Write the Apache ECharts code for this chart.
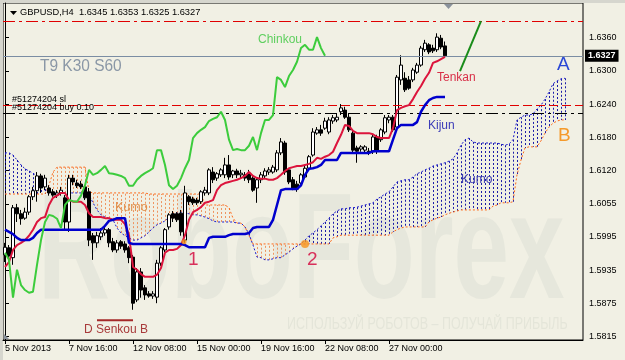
<!DOCTYPE html>
<html><head><meta charset="utf-8">
<script src="https://cdn.jsdelivr.net/npm/echarts@6/dist/echarts.min.js"></script>
<style>html,body{margin:0;padding:0;background:#f1f0e4}#c{width:625px;height:360px}</style>
</head><body><div id="c"></div><script>
// ---- data ----
const dateLabels = ['5 Nov 2013','7 Nov 16:00','12 Nov 08:00','15 Nov 00:00','19 Nov 16:00','22 Nov 08:00','27 Nov 00:00'];
const barsPerLabel = 16;
const barCount = 145;
const categories = Array.from({length: barCount}, (_, i) => 'bar' + i);

const tickValues = [1.5815,1.58756,1.59361,1.59967,1.60572,1.61178,1.61784,1.62389,1.62995,1.6360];
const tickLabels = ['1.5815','1.5875','1.5935','1.5995','1.6055','1.6120','1.6180','1.6240','1.6300','1.6360'];

// [open, close, low, high]
const candles = [
[1.5964,1.5978,1.5951,1.5986],[1.5977,1.5962,1.5948,1.5982],[1.5959,1.6050,1.5946,1.6055],[1.6050,1.6039,1.6024,1.6057],
[1.6039,1.6030,1.6019,1.6046],[1.6031,1.6042,1.6028,1.6050],[1.6042,1.6070,1.6037,1.6073],[1.6070,1.6081,1.6064,1.6088],
[1.6081,1.6108,1.6061,1.6115],[1.6108,1.6086,1.6077,1.6112],[1.6088,1.6104,1.6082,1.6110],[1.6086,1.6077,1.6072,1.6091],
[1.6079,1.6073,1.6070,1.6084],[1.6073,1.6077,1.6068,1.6082],[1.6077,1.6082,1.6072,1.6088],[1.6068,1.6024,1.6010,1.6073],
[1.6024,1.6104,1.6006,1.6110],[1.6104,1.6097,1.6091,1.6110],[1.6095,1.6090,1.6086,1.6101],[1.6093,1.6088,1.6084,1.6099],
[1.6088,1.6068,1.6064,1.6091],[1.6079,1.5991,1.5980,1.6086],[1.5999,1.5986,1.5955,1.6004],[1.5986,1.5999,1.5977,1.6006],
[1.5997,1.6004,1.5991,1.6013],[1.6004,1.6010,1.5999,1.6017],[1.6010,1.5986,1.5978,1.6013],[1.5988,1.5973,1.5969,1.5995],
[1.5973,1.5986,1.5968,1.5991],[1.5988,1.5980,1.5975,1.5991],[1.5984,1.5973,1.5968,1.5989],[1.5977,1.5959,1.5949,1.5980],
[1.5960,1.5876,1.5864,1.5964],[1.5882,1.5933,1.5878,1.5940],[1.5933,1.5900,1.5886,1.5940],[1.5904,1.5891,1.5882,1.5909],
[1.5893,1.5889,1.5886,1.5898],[1.5889,1.5893,1.5884,1.5898],[1.5887,1.5949,1.5876,1.5955],[1.5949,1.5977,1.5944,1.5980],
[1.5973,1.6010,1.5969,1.6013],[1.6015,1.6037,1.6010,1.6040],[1.6039,1.6031,1.6024,1.6044],[1.6039,1.6028,1.6024,1.6042],
[1.6040,1.6006,1.5999,1.6046],[1.5991,1.6077,1.5986,1.6090],[1.6070,1.6061,1.6055,1.6073],[1.6066,1.6059,1.6055,1.6070],
[1.6064,1.6059,1.6055,1.6068],[1.6061,1.6079,1.6057,1.6082],[1.6077,1.6082,1.6072,1.6088],[1.6077,1.6119,1.6073,1.6122],
[1.6115,1.6101,1.6095,1.6124],[1.6104,1.6112,1.6099,1.6115],[1.6110,1.6119,1.6106,1.6122],[1.6110,1.6128,1.6104,1.6141],
[1.6128,1.6106,1.6101,1.6146],[1.6110,1.6117,1.6104,1.6119],[1.6117,1.6110,1.6104,1.6121],[1.6110,1.6113,1.6104,1.6119],
[1.6110,1.6104,1.6099,1.6115],[1.6113,1.6101,1.6095,1.6119],[1.6104,1.6082,1.6079,1.6108],[1.6086,1.6101,1.6059,1.6104],
[1.6101,1.6110,1.6095,1.6115],[1.6108,1.6117,1.6104,1.6122],[1.6115,1.6119,1.6110,1.6124],[1.6115,1.6124,1.6112,1.6128],
[1.6119,1.6150,1.6115,1.6155],[1.6150,1.6170,1.6146,1.6177],[1.6168,1.6115,1.6110,1.6172],[1.6119,1.6097,1.6093,1.6122],
[1.6101,1.6086,1.6082,1.6106],[1.6093,1.6084,1.6079,1.6099],[1.6095,1.6110,1.6091,1.6113],[1.6106,1.6122,1.6104,1.6128],
[1.6122,1.6143,1.6119,1.6146],[1.6146,1.6188,1.6143,1.6195],[1.6186,1.6192,1.6183,1.6197],[1.6192,1.6186,1.6181,1.6201],
[1.6195,1.6208,1.6192,1.6214],[1.6188,1.6210,1.6184,1.6215],[1.6208,1.6214,1.6203,1.6219],[1.6210,1.6215,1.6206,1.6221],
[1.6225,1.6232,1.6219,1.6239],[1.6228,1.6215,1.6212,1.6234],[1.6215,1.6192,1.6188,1.6221],[1.6186,1.6155,1.6150,1.6192],
[1.6159,1.6153,1.6132,1.6163],[1.6157,1.6161,1.6152,1.6164],[1.6155,1.6161,1.6150,1.6164],[1.6153,1.6150,1.6146,1.6159],
[1.6152,1.6179,1.6148,1.6183],[1.6179,1.6155,1.6148,1.6183],[1.6174,1.6192,1.6170,1.6195],[1.6188,1.6214,1.6184,1.6219],
[1.6210,1.6215,1.6204,1.6219],[1.6215,1.6192,1.6188,1.6219],[1.6197,1.6288,1.6192,1.6292],[1.6283,1.6310,1.6274,1.6328],
[1.6286,1.6265,1.6261,1.6297],[1.6283,1.6268,1.6265,1.6290],[1.6283,1.6301,1.6279,1.6305],[1.6297,1.6310,1.6294,1.6314],
[1.6310,1.6341,1.6307,1.6345],[1.6338,1.6350,1.6334,1.6356],[1.6347,1.6334,1.6330,1.6350],[1.6341,1.6336,1.6332,1.6347],
[1.6338,1.6361,1.6334,1.6368],[1.6359,1.6343,1.6339,1.6365],[1.6345,1.6327,1.6325,1.6353]
];

const tenkan = [1.5942,1.5951,1.5973,1.5982,1.5986,1.5991,1.5999,1.6010,1.6024,1.6031,
1.6033,1.6055,1.6068,1.6072,1.6077,1.6077,1.6064,1.6061,1.6061,1.6061,
1.6055,1.6040,1.6033,1.6033,1.6033,1.6031,1.6031,1.6028,1.6028,1.6028,
1.6020,1.6000,1.5942,1.5937,1.5929,1.5924,1.5924,1.5924,1.5928,1.5940,
1.5968,1.5973,1.5973,1.5975,1.5982,1.6000,1.6028,1.6042,1.6046,1.6051,
1.6059,1.6061,1.6064,1.6082,1.6091,1.6095,1.6097,1.6099,1.6101,1.6104,
1.6108,1.6115,1.6108,1.6104,1.6103,1.6103,1.6101,1.6101,1.6104,1.6110,
1.6117,1.6122,1.6124,1.6126,1.6126,1.6128,1.6130,1.6133,1.6141,1.6139,
1.6143,1.6146,1.6152,1.6168,1.6183,1.6201,1.6199,1.6190,1.6186,1.6186,
1.6186,1.6186,1.6184,1.6179,1.6177,1.6177,1.6177,1.6195,1.6228,1.6232,
1.6235,1.6237,1.6248,1.6261,1.6272,1.6285,1.6296,1.6314,1.6317,1.6321,
1.6325];

const kijun = [1.6010,1.6006,1.6002,1.5995,1.5991,1.5991,1.5991,1.5995,1.6004,1.6010,
1.6010,1.6010,1.6010,1.6010,1.6010,1.6010,1.6010,1.6010,1.6010,1.6010,
1.6010,1.6010,1.6010,1.6010,1.6010,1.6017,1.6026,1.6028,1.6031,1.6031,
1.6031,1.5986,1.5984,1.5984,1.5984,1.5984,1.5984,1.5984,1.5984,1.5984,
1.5984,1.5984,1.5984,1.5984,1.5984,1.5982,1.5978,1.5978,1.5978,1.5978,
1.5978,1.5995,1.5997,1.5997,1.5997,1.5997,1.6000,1.6002,1.6002,1.6002,
1.6002,1.6004,1.6013,1.6015,1.6015,1.6015,1.6015,1.6028,1.6055,1.6082,
1.6084,1.6084,1.6084,1.6084,1.6091,1.6110,1.6121,1.6122,1.6124,1.6128,
1.6137,1.6137,1.6137,1.6137,1.6150,1.6150,1.6150,1.6150,1.6150,1.6150,
1.6150,1.6150,1.6153,1.6153,1.6153,1.6153,1.6153,1.6174,1.6195,1.6201,
1.6201,1.6201,1.6201,1.6206,1.6225,1.6237,1.6246,1.6250,1.6252,1.6252,
1.6252];

const chinkou = [1.5968,1.5955,1.5886,1.5937,1.5909,1.5900,1.5895,1.5897,1.5946,1.5991,
1.6024,1.6037,1.6035,1.6030,1.6013,1.6055,1.6064,1.6062,1.6061,1.6072,
1.6091,1.6119,1.6110,1.6113,1.6119,1.6126,1.6113,1.6112,1.6110,1.6108,
1.6104,1.6090,1.6090,1.6101,1.6108,1.6113,1.6117,1.6122,1.6155,1.6155,
1.6128,1.6091,1.6084,1.6090,1.6104,1.6122,1.6137,1.6177,1.6186,1.6192,
1.6197,1.6208,1.6212,1.6215,1.6225,1.6210,1.6174,1.6155,1.6157,1.6155,
1.6155,1.6163,1.6179,1.6155,1.6186,1.6210,1.6210,1.6219,1.6288,1.6283,
1.6270,1.6290,1.6301,1.6316,1.6341,1.6347,1.6338,1.6338,1.6361,1.6341,
1.6327];

const senkouA = [1.6150,1.6150,1.6146,1.6137,1.6128,1.6121,1.6117,1.6113,1.6108,1.6097,
1.6084,1.6077,1.6077,1.6077,1.6077,1.6077,1.6077,1.6077,1.6077,1.6077,
1.6077,1.6073,1.6059,1.6046,1.6037,1.6033,1.6031,1.6028,1.6013,1.6004,
1.5999,1.5995,1.5991,1.5991,1.5995,1.5999,1.6006,1.6013,1.6019,1.6022,
1.6026,1.6033,1.6039,1.6040,1.6042,1.6040,1.6039,1.6037,1.6037,1.6035,
1.6033,1.6030,1.6026,1.6024,1.6024,1.6024,1.6024,1.6024,1.6022,1.6022,
1.6015,1.6002,1.5982,1.5960,1.5959,1.5955,1.5955,1.5957,1.5959,1.5959,
1.5964,1.5969,1.5975,1.5980,1.5984,1.5991,1.5999,1.6004,1.6010,1.6017,
1.6024,1.6031,1.6039,1.6044,1.6048,1.6048,1.6050,1.6050,1.6051,1.6053,
1.6055,1.6057,1.6059,1.6066,1.6070,1.6075,1.6079,1.6088,1.6097,1.6099,
1.6101,1.6101,1.6106,1.6112,1.6115,1.6119,1.6122,1.6126,1.6128,1.6130,
1.6132,1.6135,1.6139,1.6150,1.6164,1.6174,1.6177,1.6170,1.6168,1.6168,
1.6168,1.6168,1.6168,1.6168,1.6166,1.6164,1.6166,1.6174,1.6210,1.6215,
1.6219,1.6219,1.6221,1.6230,1.6237,1.6248,1.6261,1.6276,1.6281,1.6285,
1.6286];

const senkouB = [1.6075,1.6075,1.6075,1.6075,1.6075,1.6075,1.6075,1.6075,1.6075,1.6075,
1.6075,1.6091,1.6115,1.6124,1.6124,1.6124,1.6124,1.6124,1.6124,1.6124,
1.6124,1.6079,1.6077,1.6077,1.6077,1.6077,1.6077,1.6077,1.6077,1.6077,
1.6077,1.6077,1.6077,1.6077,1.6077,1.6077,1.6075,1.6075,1.6075,1.6075,
1.6075,1.6075,1.6075,1.6075,1.6075,1.6075,1.6075,1.6075,1.6075,1.6075,
1.6055,1.6055,1.6055,1.6055,1.6055,1.6055,1.6050,1.6031,1.6022,1.6022,
1.6015,1.5999,1.5984,1.5984,1.5984,1.5984,1.5984,1.5984,1.5984,1.5984,
1.5984,1.5984,1.5984,1.5984,1.5984,1.5984,1.5984,1.5984,1.5984,1.5984,
1.5984,1.5984,1.5995,1.5997,1.6000,1.6000,1.6000,1.6000,1.6000,1.6000,
1.6000,1.6000,1.6000,1.6000,1.6000,1.6000,1.6000,1.6006,1.6010,1.6013,
1.6015,1.6015,1.6015,1.6015,1.6015,1.6015,1.6024,1.6028,1.6031,1.6033,
1.6037,1.6040,1.6042,1.6044,1.6046,1.6046,1.6046,1.6046,1.6046,1.6046,
1.6046,1.6046,1.6053,1.6055,1.6059,1.6059,1.6059,1.6061,1.6110,1.6137,
1.6159,1.6161,1.6161,1.6161,1.6172,1.6186,1.6197,1.6204,1.6208,1.6210,
1.6210];

// horizontal levels
const levelPrices = [1.6390, 1.6327, 1.6237, 1.6222];
const levelKinds = ['tp', 'bid', 'sl', 'entry'];
// user drawn objects (bar position, price)
const trendLine = [[113.75, 1.6299], [119, 1.6390]];
const senkouBMark = [[23, 1.5845], [32, 1.5845]];
const signalDots = [[44.75, 1.5988, 5], [75, 1.5984, 8]];

// ---- chart ----
const FONT = '"Liberation Sans", Arial, sans-serif';
const chart = echarts.init(document.getElementById('c'), null, {renderer: 'canvas'});

function nearestLabel(v) {
  let k = 0, best = 1e9;
  tickValues.forEach((t, j) => { const d = Math.abs(t - v); if (d < best) { best = d; k = j; } });
  return tickLabels[k];
}
const showTick = (i) => i % barsPerLabel === 0 && i / barsPerLabel < dateLabels.length;

function txt(text, x, y, size, color, extra) {
  return Object.assign({type: 'text', x: x, y: y, z: 100, silent: true,
    style: {text: text, font: size + 'px ' + FONT, fill: color, align: 'left', verticalAlign: 'middle'}}, extra || {});
}

const levelStyles = {
  tp: {color: '#e00000', width: 1, type: [12, 4, 3, 4]},
  bid: {color: '#7b8da3', width: 1, type: 'solid'},
  sl: {color: '#e00000', width: 1, type: [9, 4]},
  entry: {color: '#000000', width: 1, type: [12, 4, 3, 4]}
};

const kumoData = senkouA.map((a, i) => [i, a, senkouB[i]]);

const option = {
  animation: false,
  backgroundColor: '#f1f0e4',
  grid: {left: 3, top: 3, right: 42, bottom: 20, show: true, borderColor: '#000', borderWidth: 1, backgroundColor: 'transparent'},
  xAxis: [{
    type: 'category', data: categories, boundaryGap: true,
    axisLine: {show: true, lineStyle: {color: '#000'}},
    axisTick: {show: true, interval: showTick, alignWithLabel: true, length: 4, lineStyle: {color: '#000'}},
    axisLabel: {interval: showTick, formatter: (v, i) => dateLabels[Math.round(i / barsPerLabel)] || '',
      align: 'left', margin: 4, fontSize: 9, fontFamily: FONT, color: '#000'},
    splitLine: {show: false}
  }, {
    type: 'value', min: -0.5, max: barCount - 0.5, show: false
  }],
  yAxis: {
    type: 'value', position: 'right', min: 1.58089, max: 1.64232,
    axisLine: {show: true, lineStyle: {color: '#000'}},
    axisTick: {show: true, length: 4, customValues: tickValues, lineStyle: {color: '#000'}},
    axisLabel: {customValues: tickValues, formatter: nearestLabel, margin: 6, fontSize: 9, fontFamily: FONT, color: '#000'},
    splitLine: {show: false}
  },
  series: [
    {
      type: 'custom', name: 'kumo', z: 1, silent: true,
      data: kumoData,
      encode: {x: 0, y: [1, 2]},
      renderItem: function (params, api) {
        const i = api.value(0), a = api.value(1), b = api.value(2);
        const pa = api.coord([i, a]), pb = api.coord([i, b]);
        const x = Math.round(pa[0]) + 0.5;
        const up = a >= b;
        return {type: 'line', shape: {x1: x, y1: pa[1], x2: x, y2: pb[1]},
          style: {stroke: up ? '#1c1ca8' : '#ee9460', lineWidth: 1, lineDash: [2, 2]}};
      }
    },
    {type: 'line', name: 'Senkou A', data: senkouA, symbol: 'none', z: 2, silent: true,
      lineStyle: {color: '#1c1ccd', width: 1, type: [2, 2]}},
    {type: 'line', name: 'Senkou B', data: senkouB, symbol: 'none', z: 2, silent: true,
      lineStyle: {color: '#ff6a1a', width: 1, type: [2, 2]}},
    {
      type: 'candlestick', name: 'GBPUSD', z: 3, barWidth: 3,
      data: candles,
      itemStyle: {color: '#ffffff', color0: '#000000', borderColor: '#000000', borderColor0: '#000000', borderWidth: 1}
    },
    {type: 'line', name: 'Tenkan', data: tenkan, symbol: 'none', z: 5, silent: true,
      lineStyle: {color: '#dc143c', width: 2}},
    {type: 'line', name: 'Kijun', data: kijun, symbol: 'none', z: 5, silent: true,
      lineStyle: {color: '#0000cd', width: 2.5}},
    {type: 'line', name: 'Chinkou', data: chinkou, symbol: 'none', z: 5, silent: true,
      lineStyle: {color: '#3ccc3c', width: 2}},
    {type: 'line', name: 'trend', xAxisIndex: 1, data: trendLine, symbol: 'none', z: 6, silent: true,
      lineStyle: {color: '#1a8c1a', width: 2},
      markLine: {
        silent: true, symbol: ['none', 'none'], animation: false, precision: 5,
        data: levelPrices.map((p, k) => ({
          yAxis: p, lineStyle: levelStyles[levelKinds[k]],
          label: levelKinds[k] === 'bid'
            ? {show: true, position: 'end', formatter: p.toFixed(4), color: '#fff', backgroundColor: '#000',
               padding: [2, 3, 1, 3], fontSize: 9, fontWeight: 'bold', fontFamily: FONT, distance: 2}
            : {show: false}
        }))
      }},
    {type: 'line', name: 'D Senkou B', xAxisIndex: 1, data: senkouBMark, symbol: 'none', z: 6, silent: true,
      lineStyle: {color: '#a52a2a', width: 2}},
    {type: 'scatter', name: 'signals', xAxisIndex: 1, data: signalDots, z: 7, silent: true,
      symbolSize: (d) => d[2], itemStyle: {color: '#f7941d'}}
  ],
  graphic: {elements: [
    {type: 'rect', z: 0, silent: true, shape: {x: 0, y: 0, width: 625, height: 3}, style: {fill: '#d6d6ce'}},
    {type: 'rect', z: 0, silent: true, shape: {x: 0, y: 0, width: 3, height: 360}, style: {fill: '#d6d6ce'}},
    {type: 'text', x: 38, y: 257, scaleX: 0.665, z: 0, silent: true,
      style: {text: 'RoboForex', font: 'bold 150px ' + FONT, fill: '#e6e7dc', align: 'left', verticalAlign: 'middle'}},
    {type: 'text', x: 287, y: 325, scaleX: 0.78, z: 0, silent: true,
      style: {text: 'ИСПОЛЬЗУЙ РОБОТОВ – ПОЛУЧАЙ ПРИБЫЛЬ', font: '16px ' + FONT, fill: '#e4e5d9', align: 'left', verticalAlign: 'middle'}},
    {type: 'polygon', z: 100, silent: true, shape: {points: [[10, 11], [17, 11], [13.5, 15]]}, style: {fill: '#000'}},
    {type: 'polygon', z: 100, silent: true, shape: {points: [[444, 4], [453, 4], [448.5, 9]]}, style: {fill: '#8a929c'}},
    {type: 'polygon', z: 100, silent: true, shape: {points: [[4, 334], [4, 339], [9, 339]]}, style: {fill: '#8a929c'}},
    txt('GBPUSD,H4  1.6345 1.6353 1.6325 1.6327', 20, 12.5, 9.3, '#000'),
    txt('T9 K30 S60', 40, 66.5, 17, '#8a97a6', {scaleX: 0.91}),
    txt('#51274204 sl', 12, 99.5, 9, '#000'),
    txt('#51274204 buy 0.10', 12, 107.8, 9, '#000'),
    txt('Chinkou', 258, 39.5, 12, '#5fcf5f'),
    txt('Tenkan', 437, 77.5, 12, '#d83048'),
    txt('Kijun', 428, 125.5, 12, '#3c3cb8'),
    txt('Kumo', 461, 179.5, 12, '#4040b0'),
    txt('Kumo', 115, 208, 12.5, '#e0924e'),
    txt('A', 557, 65, 19, '#2a48d6'),
    txt('B', 558, 136, 19, '#f59a2a'),
    txt('1', 188, 260, 19, '#d8305a'),
    txt('2', 307, 259.5, 19, '#d8305a'),
    txt('D Senkou B', 84, 330, 12, '#a83a3a')
  ]}
};
chart.setOption(option);
</script></body></html>
